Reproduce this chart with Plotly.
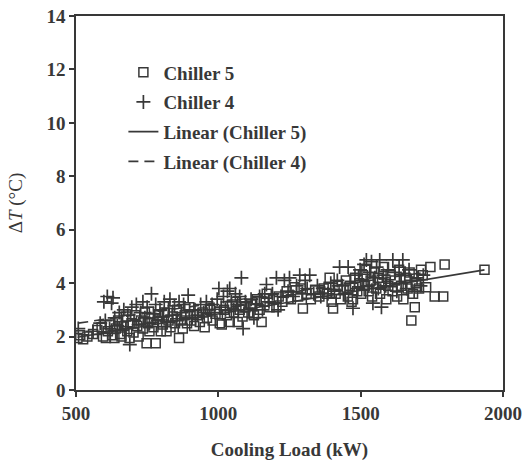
import numpy as np
import plotly.graph_objects as go

# Chiller 5 (squares): cooling load (kW), delta T (°C)
ch5_load = [505, 515, 525, 540, 560, 575, 590, 595,
            605, 612, 620, 628, 635, 640, 648, 655, 660, 668, 675, 680, 688, 695,
            702, 708, 715, 720, 728, 735, 742, 748, 752, 758, 765, 772, 780, 785, 792, 798,
            805, 812, 818, 825, 832, 840, 848, 855, 862, 868, 875, 882, 890, 898,
            905, 915, 925, 935, 945, 952, 960, 970, 980, 990,
            1005, 1012, 1020, 1030, 1040, 1048, 1055, 1062, 1068, 1075, 1085, 1095,
            1105, 1115, 1125, 1135, 1145, 1152, 1160, 1170, 1180, 1192,
            1204, 1212, 1225, 1240, 1255, 1268, 1280, 1290, 1297,
            1310, 1325, 1340, 1355, 1370, 1382, 1391, 1398,
            1403, 1412, 1420, 1430, 1440, 1448, 1455, 1462, 1468, 1473, 1480, 1488, 1495,
            1502, 1508, 1515, 1520, 1528, 1535, 1540, 1548, 1555, 1560, 1568, 1575, 1582, 1590, 1597,
            1605, 1612, 1620, 1628, 1635, 1642, 1650, 1658, 1665, 1672, 1678, 1684, 1690, 1695,
            1705, 1712, 1718, 1730, 1745, 1760, 1790, 1795, 1935]
ch5_dt = [1.95, 2.05, 1.9, 2.0, 2.1, 2.25, 2.35, 2.0,
          1.95, 2.2, 2.45, 2.05, 1.95, 2.3, 2.6, 2.1, 2.0, 2.4, 2.75, 2.2, 1.95, 2.5,
          2.15, 2.8, 2.4, 2.0, 2.6, 2.3, 2.9, 1.75, 2.5, 2.2, 2.7, 2.35, 1.75, 2.55, 2.8, 2.2,
          2.45, 2.9, 2.2, 2.6, 2.35, 2.75, 2.5, 3.0, 1.95, 2.6, 2.3, 2.8, 2.5, 3.1,
          2.6, 2.4, 2.8, 2.55, 2.9, 2.35, 2.7, 3.0, 2.6, 2.85,
          2.5, 2.45, 3.0, 2.8, 2.55, 3.2, 2.9, 3.3, 2.55, 3.0, 2.75, 3.1,
          2.9, 3.2, 2.8, 3.4, 3.0, 2.55, 3.3, 3.6, 3.1, 3.4,
          3.1, 3.5, 3.3, 3.7, 3.4, 3.85, 3.5, 3.8, 3.05,
          3.6, 3.4, 3.75, 3.5, 3.8, 3.6, 4.2, 3.3,
          3.05, 3.6, 3.9, 3.4, 3.75, 4.1, 3.5, 3.9, 3.3, 3.4, 4.2, 3.7, 4.0,
          3.6, 4.3, 3.9, 4.5, 3.7, 4.1, 3.5, 4.4, 3.8, 4.2, 3.6, 4.0, 4.6, 3.4, 3.9,
          4.3, 3.7, 4.1, 3.5, 4.5, 3.9, 3.4, 4.2, 3.8, 4.4, 2.6, 3.6, 3.1, 4.0,
          3.8, 4.5, 4.3, 3.85, 4.6, 3.5, 3.5, 4.7, 4.5]

# Chiller 4 (plus signs)
ch4_load = [508, 560, 585,
            598, 603, 610, 618, 625, 630, 636, 645, 652, 660, 668, 675, 682, 689, 696,
            704, 712, 720, 727, 735, 742, 750, 758, 765, 772, 780, 788, 795,
            803, 810, 818, 825, 830, 838, 846, 854, 862, 870, 878, 886, 894, 899,
            908, 918, 928, 938, 948, 958, 968, 978, 988, 996,
            1002, 1010, 1018, 1025, 1032, 1040, 1046, 1054, 1060, 1068, 1075, 1081, 1087, 1095,
            1105, 1115, 1125, 1135, 1145, 1155, 1163, 1169, 1178, 1190,
            1204, 1210, 1220, 1232, 1245, 1250, 1262, 1275, 1286, 1295,
            1305, 1312, 1321, 1335, 1348, 1360, 1372, 1385, 1395,
            1408, 1418, 1426, 1435, 1445, 1456, 1464, 1473, 1480, 1490, 1498,
            1505, 1512, 1520, 1526, 1532, 1538, 1543, 1550, 1556, 1562, 1567, 1573, 1580, 1588, 1595,
            1603, 1613, 1620, 1627, 1635, 1642, 1648, 1655, 1662, 1670, 1678, 1688, 1698, 1710, 1720]
ch4_dt = [2.3, 2.2, 2.5,
          3.3, 2.6, 3.5, 2.3, 3.25, 3.45, 2.7, 2.4, 2.9, 2.55, 3.0, 2.3, 2.8, 1.7, 3.1,
          2.6, 3.2, 2.45, 2.9, 3.3, 2.7, 3.1, 2.5, 3.6, 2.85, 3.2, 2.6, 3.0,
          2.75, 3.3, 2.55, 3.05, 3.4, 2.8, 3.15, 2.6, 3.3, 2.9, 3.2, 2.7, 3.55, 3.0,
          2.7, 3.0, 2.8, 3.2, 2.9, 3.3, 3.0, 3.2, 2.9, 3.4,
          3.8, 3.1, 3.5, 3.0, 3.7, 3.8, 3.3, 3.0, 3.6, 3.2, 3.5, 4.2, 2.3, 3.3,
          3.0, 3.4, 2.7, 3.2, 3.5, 3.0, 3.6, 3.95, 3.3, 3.6,
          4.2, 3.0, 3.5, 4.1, 3.7, 4.2, 3.5, 3.9, 4.3, 3.6,
          4.1, 3.8, 4.3, 3.6, 3.9, 3.5, 3.8, 3.6, 4.0,
          3.7, 4.1, 4.6, 3.9, 3.6, 4.6, 4.0, 3.06, 4.3, 3.8, 4.5,
          4.1, 4.7, 4.87, 3.9, 4.4, 4.8, 3.25, 4.2, 4.6, 3.8, 4.87, 3.1, 4.3, 3.9, 4.5,
          4.0, 4.87, 4.4, 3.7, 4.6, 4.0, 4.87, 4.3, 3.8, 4.5, 4.1, 3.7, 4.2, 3.9, 4.3]

x_ticks = [500, 1000, 1500, 2000]
y_ticks = [0, 2, 4, 6, 8, 10, 12, 14]

INK = "#383838"
FONT = "Liberation Serif"
FS = 19


def linear_fit(xs, ys):
    xs = np.asarray(xs, float)
    ys = np.asarray(ys, float)
    k, b = np.polyfit(xs, ys, 1)
    xx = np.array([xs.min(), xs.max()])
    return xx, k * xx + b


fit5_x, fit5_y = linear_fit(ch5_load, ch5_dt)
fit4_x, fit4_y = linear_fit(ch4_load, ch4_dt)

fig = go.Figure()
fig.add_trace(go.Scatter(
    x=ch5_load, y=ch5_dt, mode="markers", name="Chiller 5", legendgroup="a",
    marker=dict(symbol="square-open", size=9, color=INK, line=dict(width=1.5, color=INK)),
))
fig.add_trace(go.Scatter(
    x=ch4_load, y=ch4_dt, mode="markers", name="Chiller 4", legendgroup="b",
    marker=dict(symbol="cross-thin-open", size=10, color=INK, line=dict(width=1.7, color=INK)),
))
fig.add_trace(go.Scatter(
    x=fit5_x, y=fit5_y, mode="lines", name="Linear (Chiller 5)", legendgroup="c",
    line=dict(color=INK, width=1.6),
))
fig.add_trace(go.Scatter(
    x=fit4_x, y=fit4_y, mode="lines", name="Linear (Chiller 4)", legendgroup="d",
    line=dict(color=INK, width=1.6, dash="10px,6px"),
))

fig.update_layout(
    width=531, height=471,
    margin=dict(l=76, r=28, t=16, b=81),
    paper_bgcolor="white", plot_bgcolor="white",
    font=dict(family=FONT, size=FS, color=INK),
    showlegend=True,
    legend=dict(
        x=0.111, y=0.9, xanchor="left", yanchor="top",
        bgcolor="rgba(0,0,0,0)", tracegroupgap=2,
        font=dict(family=FONT, size=FS, color=INK, weight="bold"),
    ),
)
fig.update_xaxes(
    range=[500, 2000], tickvals=x_ticks, ticktext=[str(v) for v in x_ticks],
    showgrid=False, zeroline=False, showline=True, linecolor=INK, linewidth=1.6,
    mirror=True, ticks="outside", ticklen=5, tickcolor=INK, tickwidth=1.6,
    automargin=False, ticklabeloverflow="allow",
    tickfont=dict(family=FONT, size=FS, color=INK, weight="bold"),
    title=dict(text="<b>Cooling Load (kW)</b>", font=dict(family=FONT, size=FS, color=INK), standoff=20),
)
fig.update_yaxes(
    range=[0, 14], tickvals=y_ticks, ticktext=[str(v) for v in y_ticks],
    showgrid=False, zeroline=False, showline=True, linecolor=INK, linewidth=1.6,
    mirror=True, ticks="outside", ticklen=5, tickcolor=INK, tickwidth=1.6,
    automargin=False, ticklabeloverflow="allow",
    tickfont=dict(family=FONT, size=FS, color=INK, weight="bold"),
    title=dict(text="Δ<i>T</i> (°C)", font=dict(family=FONT, size=FS, color=INK), standoff=19),
)

fig.write_html(
    "out.html",
    config={"displayModeBar": False},
    post_script="document.body.style.margin='0';",
)
